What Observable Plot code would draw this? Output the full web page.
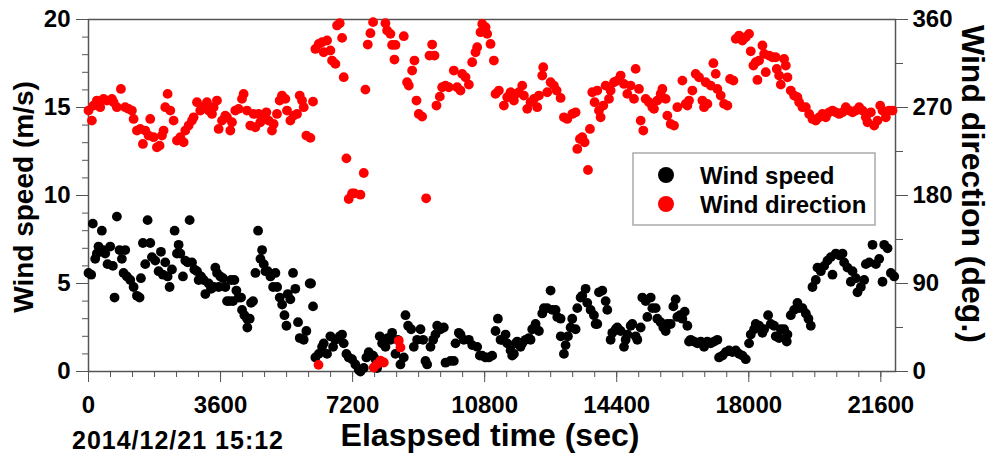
<!DOCTYPE html>
<html>
<head>
<meta charset="utf-8">
<script src="https://cdn.jsdelivr.net/npm/d3@7"></script>
<script src="https://cdn.jsdelivr.net/npm/@observablehq/plot@0.6"></script>
<style>
  html, body { margin: 0; padding: 0; background: #fff; }
  #chart svg { display: block; }
</style>
</head>
<body>
<div id="chart"></div>
<script>
// ---- data ----
const speedTime = [0,73,118,182,228,273,364,410,455,519,592,664,710,774,846,910,956,1001,1047,1138,1229,1320,1392,1429,1483,1547,1611,1684,1729,1820,1911,1975,2029,2093,2157,2211,2275,2348,2412,2457,2503,2575,2639,2703,2757,2821,2885,2958,3003,3067,3140,3185,3276,3340,3413,3458,3504,3549,3595,3667,3731,3777,3849,3886,3940,3977,4031,4095,4159,4186,4250,4323,4330,4395,4432,4486,4550,4623,4687,4732,4778,4823,4887,4960,5032,5096,5142,5214,5278,5342,5396,5433,5503,5576,5639,5712,5758,5867,5939,6030,6067,6121,6185,6276,6367,6412,6503,6594,6667,6731,6849,6913,6958,7031,7094,7185,7276,7367,7413,7504,7576,7640,7758,7822,7868,7940,8004,8095,8159,8231,8277,8368,8431,8504,8595,8641,8713,8795,8868,8959,9050,9123,9186,9232,9323,9396,9459,9505,9596,9687,9732,9868,9959,10005,10096,10141,10232,10369,10460,10596,10669,10732,10823,10914,11005,11096,11160,11233,11278,11369,11415,11506,11551,11597,11642,11687,11778,11824,11915,12006,12051,12097,12188,12279,12370,12415,12506,12597,12642,12733,12779,12870,12875,12961,13006,13070,13143,13188,13279,13325,13416,13461,13552,13597,13688,13779,13825,13870,13916,14007,14098,14143,14234,14280,14371,14416,14507,14598,14643,14689,14780,14825,14916,14962,15053,15098,15189,15235,15326,15371,15462,15507,15598,15671,15735,15780,15871,15944,16007,16053,16126,16190,16253,16326,16371,16417,16508,16599,16690,16781,16872,16963,17054,17144,17190,17281,17372,17463,17554,17645,17736,17827,17918,18008,18054,18145,18190,18281,18372,18418,18527,18600,18691,18736,18827,18873,18963,19036,19054,19145,19236,19327,19373,19464,19555,19627,19691,19736,19827,19873,19964,20055,20146,20237,20282,20373,20464,20555,20600,20691,20782,20828,20919,20964,21055,21146,21192,21283,21374,21465,21555,21646,21692,21783,21874,21965];
const speedValue = [5.6,5.5,8.4,6.4,6.7,7.1,8.0,6.9,6.7,6.1,7.1,6.0,4.2,8.8,6.9,6.4,5.6,6.9,5.4,5.2,4.8,4.3,4.2,5.3,7.3,6.1,8.6,7.3,6.5,6.3,5.7,6.8,5.5,6.2,5.4,4.8,5.8,8.0,6.7,7.2,6.7,5.4,6.3,6.2,8.6,6.2,5.8,5.7,5.2,5.4,5.2,4.4,5.0,4.7,4.8,5.9,5.6,4.8,5.4,5.3,4.8,4.0,4.0,5.2,4.0,5.2,4.6,4.2,4.2,3.5,3.2,3.0,2.5,3.0,3.9,4.0,5.6,8.0,6.4,6.9,6.1,5.7,5.7,5.4,4.8,5.6,4.8,4.2,3.8,3.2,2.6,4.4,4.1,5.6,4.7,2.8,1.9,1.8,2.3,5.0,5.0,3.7,0.8,1.0,1.4,1.6,1.0,2.0,1.4,1.8,2.0,2.1,1.6,1.0,0.8,0.7,0.4,0.1,0.0,0.2,0.8,1.1,0.9,0.7,0.2,2.0,1.6,1.4,1.9,1.8,2.2,1.0,1.8,0.4,0.8,3.2,2.6,2.4,1.4,1.8,2.4,1.8,0.6,0.4,1.4,1.8,2.1,2.6,2.4,2.5,0.5,0.6,0.6,1.6,2.2,2.1,1.8,1.8,1.5,1.4,0.9,0.9,0.8,0.8,0.9,2.3,3.0,1.8,1.8,2.1,1.6,1.2,0.9,1.0,1.6,1.7,1.4,1.6,1.8,1.9,1.8,2.4,2.7,2.3,3.3,3.6,3.6,4.6,3.5,3.5,3.1,3.0,2.0,1.0,1.5,2.0,2.5,3.0,2.4,3.6,4.2,4.3,4.7,3.9,3.5,3.2,2.7,2.7,4.5,4.6,4.0,3.5,1.8,2.2,2.4,2.5,2.3,1.4,1.8,2.1,2.6,2.7,2.0,1.8,2.5,4.2,4.0,3.1,4.2,3.6,3.6,3.0,2.8,2.5,2.3,2.7,2.7,3.7,4.1,3.1,3.2,3.0,3.4,2.6,1.7,1.8,1.7,1.6,1.7,1.4,1.7,1.6,1.7,1.8,0.8,0.9,1.1,1.2,1.1,1.2,1.0,0.9,0.7,1.6,2.1,2.4,2.7,2.6,2.2,2.4,3.2,2.7,2.6,2.0,1.9,2.4,2.4,1.7,2.1,3.2,3.5,3.9,3.6,3.6,3.3,3.0,2.6,4.8,5.2,5.9,5.7,6.0,6.3,6.5,5.5,6.7,6.6,6.7,6.2,5.9,5.1,5.7,5.3,4.5,4.8,5.2,6.1,6.2,7.2,6.1,6.4,5.1,7.2,7.0,5.6,5.4];

const dirTime = [0,92,137,228,319,410,501,638,683,774,883,1001,1092,1183,1229,1320,1411,1483,1547,1638,1683,1774,1865,1938,2002,2047,2093,2157,2229,2320,2411,2502,2593,2639,2729,2820,2866,2957,3047,3138,3229,3275,3366,3411,3502,3548,3639,3729,3775,3866,3911,4002,4093,4184,4229,4320,4411,4502,4548,4639,4684,4775,4848,4911,5002,5047,5138,5211,5275,5366,5412,5503,5594,5685,5758,5821,5867,5939,6049,6121,6185,6270,6276,6367,6412,6503,6594,6640,6731,6776,6849,6913,6958,7031,7094,7185,7249,7413,7504,7549,7613,7686,7758,7777,7868,7959,8050,8095,8141,8231,8277,8340,8368,8459,8504,8595,8686,8732,8823,8886,8941,9004,9096,9205,9296,9368,9432,9486,9577,9641,9732,9823,9959,10050,10141,10187,10278,10369,10460,10551,10596,10687,10733,10824,10869,10960,11051,11096,11187,11324,11415,11506,11597,11642,11733,11824,11869,11960,12051,12142,12233,12279,12370,12397,12506,12597,12688,12761,12870,12961,13052,13188,13279,13325,13397,13461,13525,13616,13670,13734,13797,13870,13916,13961,14034,14098,14189,14234,14325,14416,14507,14598,14689,14780,14871,14916,15007,15053,15125,15189,15280,15371,15416,15507,15598,15644,15735,15780,15871,15962,16053,16190,16280,16326,16371,16462,16553,16644,16735,16781,16826,16872,16963,17035,17099,17144,17235,17326,17417,17490,17581,17645,17736,17827,17918,18008,18054,18127,18190,18236,18281,18372,18418,18463,18554,18645,18736,18763,18827,18873,18963,19009,19054,19145,19236,19327,19373,19464,19555,19646,19736,19827,19918,20008,20100,20191,20282,20373,20464,20555,20646,20737,20828,20919,21010,21100,21192,21237,21328,21419,21510,21583,21646,21737,21828,21919];
const dirValue = [266.9,256.6,272.0,277.1,270.3,278.8,277.1,278.8,275.4,270.3,289.0,270.3,268.6,266.9,258.3,246.4,248.1,232.7,246.4,241.3,258.3,239.6,229.3,231.0,241.3,246.4,270.3,283.9,266.9,256.6,236.2,239.6,234.4,246.4,251.5,256.6,260.0,275.4,266.9,270.3,275.4,266.9,263.4,270.3,277.1,248.1,256.6,261.7,260.0,246.4,254.9,266.9,268.6,278.8,283.9,266.9,251.5,263.4,249.8,263.4,254.9,260.0,265.1,256.6,246.4,253.2,263.4,277.1,282.2,278.8,266.9,256.6,261.7,263.4,282.2,277.1,270.3,241.3,238.9,276.0,329.9,6.8,335.0,336.8,326.5,338.5,328.3,318.0,314.6,353.9,356.2,341.2,301.0,218.0,176.4,182.2,182.2,180.8,203.0,288.3,334.4,346.0,357.3,4.1,7.5,11.0,9.2,356.2,348.7,345.3,334.0,319.0,334.0,31.4,24.6,342.9,295.8,292.4,307.8,318.0,277.1,263.4,260.7,177.1,323.1,334.4,323.1,272.0,281.1,290.7,292.4,290.7,307.8,290.7,287.3,304.4,300.9,293.4,316.3,326.5,331.7,347.0,355.5,352.1,345.3,335.0,318.0,283.9,287.3,272.0,280.5,285.6,277.1,283.9,285.6,292.4,282.2,268.6,275.4,278.8,270.3,282.2,302.7,311.2,285.6,295.8,292.4,287.3,279.8,260.0,258.3,263.4,265.1,227.6,237.8,239.6,234.4,206.1,248.1,285.6,275.4,287.3,266.9,260.0,272.0,292.4,278.8,287.3,295.8,297.5,302.7,294.1,283.9,292.4,278.8,309.5,289.0,256.6,246.4,278.8,275.4,270.3,268.6,277.1,283.9,289.0,278.8,261.7,253.2,251.5,270.3,297.5,273.7,272.0,277.1,287.3,304.4,300.9,277.1,270.3,295.8,273.7,292.4,315.3,304.4,289.0,282.2,273.7,272.0,299.2,297.5,340.2,343.6,338.5,341.9,345.3,327.5,312.9,316.3,298.2,318.0,333.4,324.8,306.1,323.1,321.4,321.4,309.5,302.7,293.4,319.7,312.9,300.9,287.3,282.2,280.5,275.4,270.3,270.3,263.4,258.3,256.6,260.0,263.4,260.0,265.1,266.9,265.1,263.4,265.1,270.3,266.9,265.1,266.9,270.3,266.9,260.0,254.9,265.1,251.5,256.6,271.9,266.9,260.0,266.9,266.9];

const xTicks = [0, 3600, 7200, 10800, 14400, 18000, 21600];
const speedTicks = [0, 5, 10, 15, 20];
const dirTicks = [0, 90, 180, 270, 360];
const xMinorStep = 600, speedMinorStep = 1, dirMinorStep = 45;

const seriesNames = ["Wind speed", "Wind direction"];
const seriesColors = ["#000000", "#ff0000"];

// ---- build ----
const DEG_PER_MS = 360 / 20; // right axis 0..360 maps onto left axis 0..20
const speed = speedTime.map((t, i) => ({t, v: speedValue[i]}));
const dir = dirTime.map((t, i) => ({t, d: dirValue[i]}));

const xMinor = d3.range(0, 22000 + 1, xMinorStep);
const speedMinor = d3.range(0, 20 + 0.001, speedMinorStep);
const dirMinor = d3.range(0, 360 + 0.001, dirMinorStep).map(d => d / DEG_PER_MS);

const FONT = "'Liberation Sans', Arial, Helvetica, sans-serif";
const AX = "#555";

const svg = Plot.plot({
  width: 992,
  height: 457,
  marginLeft: 88,
  marginRight: 97,
  marginTop: 19,
  marginBottom: 86,
  x: {domain: [0, 22000]},
  y: {domain: [0, 20]},
  style: {fontFamily: FONT, fontWeight: "bold", background: "#fff", color: "#000", overflow: "visible"},
  marks: [
    // minor ticks
    Plot.axisX(xMinor, {tickSize: 6, fill: "none", stroke: AX, label: null}),
    Plot.axisY(speedMinor, {anchor: "left", tickSize: 6, fill: "none", stroke: AX, label: null}),
    Plot.axisY(dirMinor, {anchor: "right", tickSize: 7, fill: "none", stroke: AX, label: null}),
    // major ticks with labels
    Plot.axisX(xTicks, {tickSize: 11, tickPadding: 13, stroke: AX, fill: "#000", fontSize: 24, fontWeight: "bold", label: null,
      tickFormat: d => String(d)}),
    Plot.axisY(speedTicks, {anchor: "left", tickSize: 12, tickPadding: 6, stroke: AX, fill: "#000", fontSize: 24, fontWeight: "bold", label: null,
      tickFormat: d => String(d)}),
    Plot.axisY(dirTicks.map(d => d / DEG_PER_MS), {anchor: "right", tickSize: 12, tickPadding: 5, stroke: AX, fill: "#000", fontSize: 24, fontWeight: "bold", label: null,
      tickFormat: y => String(Math.round(y * DEG_PER_MS))}),
    Plot.frame({stroke: AX, strokeWidth: 1.5}),
    Plot.dot(speed, {x: "t", y: "v", r: 4.9, fill: seriesColors[0], stroke: "none"}),
    Plot.dot(dir, {x: "t", y: d => d.d / DEG_PER_MS, r: 4.9, fill: seriesColors[1], stroke: "none"})
  ]
});

const s = d3.select(svg);
function addText(txt, x, y, size, opts = {}) {
  const t = s.append("text")
    .attr("x", x).attr("y", y)
    .attr("font-family", FONT).attr("font-weight", "bold")
    .attr("font-size", size).attr("fill", "#000")
    .attr("text-anchor", opts.anchor || "start")
    .text(txt);
  if (opts.rotate) t.attr("transform", `rotate(${opts.rotate},${x},${y})`);
  if (opts.spacing) t.attr("letter-spacing", opts.spacing);
  return t;
}
// axis titles
addText("Wind speed (m/s)", 33, 197, 28, {anchor: "middle", rotate: -90});
addText("Wind direction (deg.)", 962, 184, 32, {anchor: "middle", rotate: 90});
addText("Elaspsed time (sec)", 490, 446, 32, {anchor: "middle"});
addText("2014/12/21 15:12", 72, 449, 25, {spacing: 1});

// legend
const lg = s.append("g");
lg.append("rect").attr("x", 633).attr("y", 153).attr("width", 242).attr("height", 72)
  .attr("fill", "#fff").attr("stroke", "#aaa").attr("stroke-width", 1.5);
seriesNames.forEach((name, i) => {
  const cy = 175 + i * 29;
  lg.append("circle").attr("cx", 666).attr("cy", cy).attr("r", 8).attr("fill", seriesColors[i]);
  addText(name, 700, cy + 9, 24);
});

document.getElementById("chart").appendChild(svg);
</script>
</body>
</html>
